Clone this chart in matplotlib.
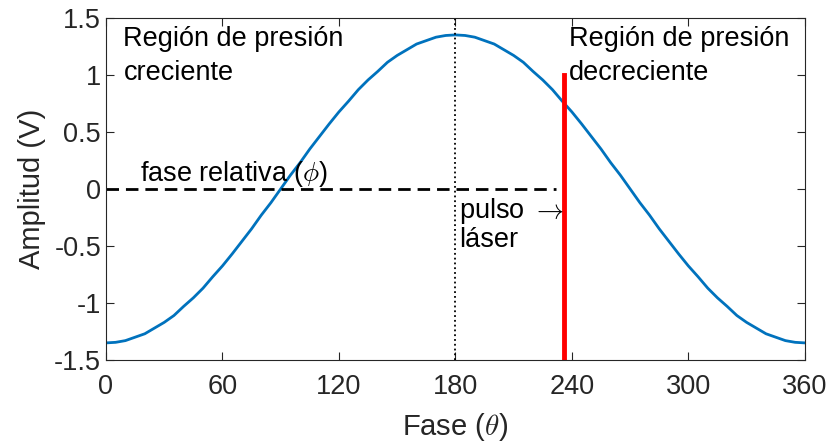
import matplotlib
matplotlib.use("Agg")
from matplotlib import pyplot as plt

plt.rcParams['font.family'] = ['Liberation Sans', 'DejaVu Sans']
plt.rcParams['mathtext.fontset'] = 'cm'

# datos
fase = list(range(0, 365, 5))
amplitud = [-1.35, -1.345, -1.33, -1.30, -1.27, -1.22, -1.17, -1.11, -1.03, -0.955, -0.87, -0.77,
            -0.675, -0.57, -0.46, -0.35, -0.23, -0.12, 0.0, 0.12, 0.23, 0.35, 0.46, 0.57, 0.675,
            0.77, 0.87, 0.955, 1.03, 1.11, 1.17, 1.22, 1.27, 1.30, 1.33, 1.345, 1.35,
            1.345, 1.33, 1.30, 1.27, 1.22, 1.17, 1.11, 1.03, 0.955, 0.87, 0.77, 0.675, 0.57,
            0.46, 0.35, 0.23, 0.12, 0.0, -0.12, -0.23, -0.35, -0.46, -0.57, -0.675, -0.77,
            -0.87, -0.955, -1.03, -1.11, -1.17, -1.22, -1.27, -1.30, -1.33, -1.345, -1.35]
fase_pulso = 236
pulso_y = [-1.5, 1.0]
fase_rel_x = [0, 232]
pico_x = 180
xticks = [0, 60, 120, 180, 240, 300, 360]
yticks = [-1.5, -1, -0.5, 0, 0.5, 1, 1.5]
yticklabels = ['-1.5', '-1', '-0.5', '0', '0.5', '1', '1.5']

gris = '#262626'
fig = plt.figure(figsize=(8.28, 4.45), dpi=100)
ax = fig.add_axes([0.128, 0.191, 0.844, 0.769])

ax.plot(fase, amplitud, color='#0072BD', lw=2)
ax.axvline(pico_x, color='black', ls=':', lw=1.3)
ax.plot(fase_rel_x, [0, 0], color='black', ls=(0, (4.5, 2.5)), lw=2)
ax.plot([fase_pulso, fase_pulso], pulso_y, color='red', lw=3.5)

ax.text(9, 1.43, 'Región de presión\ncreciente', fontsize=19.5, va='top', linespacing=1.4)
ax.text(238.5, 1.43, 'Región de presión\ndecreciente', fontsize=19.5, va='top', linespacing=1.4)
ax.text(17.5, 0.0, r'fase relativa ($\phi$)', fontsize=19.5, va='bottom')
ax.text(182, -0.06, r'pulso $\rightarrow$', fontsize=19.5, va='top')
ax.text(182, -0.33, 'láser', fontsize=19.5, va='top')

ax.set_xlim(0, 360)
ax.set_ylim(-1.5, 1.5)
ax.set_xticks(xticks)
ax.set_yticks(yticks)
ax.set_yticklabels(yticklabels)
ax.tick_params(direction='in', top=True, right=True, labelsize=19.5, colors=gris, length=6, width=0.8)
ax.tick_params(axis='x', pad=10)
for s in ax.spines.values():
    s.set_color(gris)
    s.set_linewidth(0.8)
ax.set_xlabel(r'Fase ($\theta$)', fontsize=21, color=gris, labelpad=8)
ax.set_ylabel('Amplitud (V)', fontsize=21, color=gris, labelpad=6)

plt.savefig('out.png', dpi=100)
